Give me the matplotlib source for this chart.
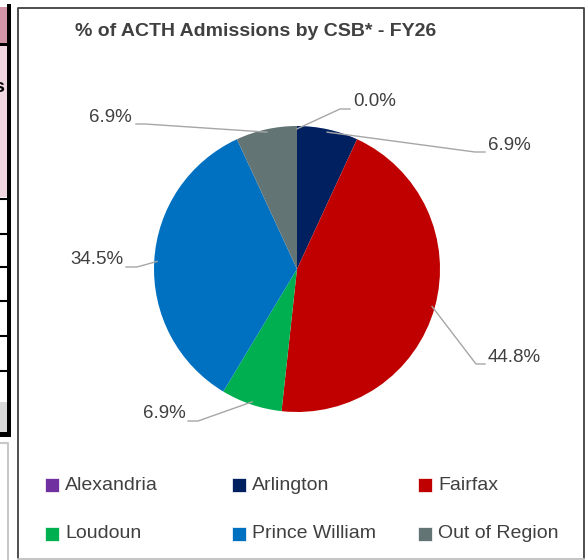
import matplotlib.pyplot as plt
from matplotlib.patches import Rectangle

W, H = 585, 560

# data
csb = ['Alexandria', 'Arlington', 'Fairfax', 'Loudoun', 'Prince William', 'Out of Region']
admissions = [0, 2, 13, 2, 10, 2]
colors = ['#7030A0', '#002060', '#C00000', '#00B050', '#0070C0', '#627574']

title = '% of ACTH Admissions by CSB* - FY26'
txt_color = '#404040'
line_color = '#A6A6A6'

plt.rcParams['font.family'] = ['Liberation Sans', 'DejaVu Sans']


def py(y):
    # pixel row (top down) -> data y
    return H - y


fig = plt.figure(figsize=(W / 100, H / 100), dpi=100)
ax = fig.add_axes([0, 0, 1, 1])

# --- bits of the neighbouring table on the left edge ---
ax.add_patch(Rectangle((0, py(43)), 7, 36, color='#D295A5', lw=0))
ax.add_patch(Rectangle((0, py(46)), 7, 3, color='black', lw=0))
ax.add_patch(Rectangle((0, py(197)), 7, 151, color='#F0D6DF', lw=0))
ax.text(4, py(88), 's', ha='right', va='center', fontsize=14, fontweight='bold', color='black')
for yy in [199, 234, 267, 301, 336, 371]:
    ax.plot([0, 9], [py(yy), py(yy)], color='black', lw=1.5)
ax.add_patch(Rectangle((0, py(432)), 7, 30, color='#D9D9D9', lw=0))
ax.add_patch(Rectangle((0, py(437)), 11, 5, color='black', lw=0))
ax.add_patch(Rectangle((7, py(437)), 4, 433, color='black', lw=0))
ax.plot([0, 8, 8], [py(443), py(443), py(560)], color='#C8C8C8', lw=1.5)

# --- chart frame ---
ax.plot([17.5, 17.5, 584, 584], [py(558), py(7.5), py(7.5), py(558)], color='#404040', lw=1.3)
ax.plot([17.5, 584], [py(558.5), py(558.5)], color='#BFBFBF', lw=1.3)

ax.text(75, py(31), title, ha='left', va='center', fontsize=14, fontweight='bold', color=txt_color)

# --- pie ---
cx, cy, r = 297, py(269), 143
wedges, _ = ax.pie(admissions, colors=colors, startangle=90, counterclock=False,
                   center=(cx, cy), radius=r, wedgeprops=dict(linewidth=0))

total = sum(admissions)
pct_labels = ['{:.1f}%'.format(v / total * 100) for v in admissions]

# label placement: (ha, text x, text y, elbow far x, elbow near x, elbow y)
label_pos = [
    ('left', 353, 102, 340, 350, 109),
    ('left', 488, 145, 475, 485, 152),
    ('left', 488, 358, 476, 485, 364),
    ('right', 186, 414, 198, 188, 421),
    ('right', 123, 260, 137, 126, 267),
    ('right', 132, 117, 145, 136, 124),
]

import numpy as np
for w, lab, (ha, tx, ty, ex1, ex2, ey) in zip(wedges, pct_labels, label_pos):
    ang = np.deg2rad((w.theta1 + w.theta2) / 2)
    ax_, ay_ = cx + 0.98 * r * np.cos(ang), cy + 0.98 * r * np.sin(ang)
    ax.plot([ax_, ex1, ex2], [ay_, py(ey), py(ey)], color=line_color, lw=1)
    ax.text(tx, py(ty), lab, ha=ha, va='center', fontsize=13.5, color=txt_color)

# --- legend ---
leg_x = [45, 232, 418]
leg_y = [485, 534]
for i, (name, col) in enumerate(zip(csb, colors)):
    x = leg_x[i % 3]
    y = leg_y[i // 3]
    ax.add_patch(Rectangle((x, py(y + 7)), 14, 14, facecolor=col, edgecolor='white', lw=0.5))
    ax.text(x + 20, py(y), name, ha='left', va='center', fontsize=14, color=txt_color)

ax.set_xlim(0, W)
ax.set_ylim(0, H)
ax.set_aspect('equal')
ax.axis('off')

fig.savefig('out.png', dpi=100)
